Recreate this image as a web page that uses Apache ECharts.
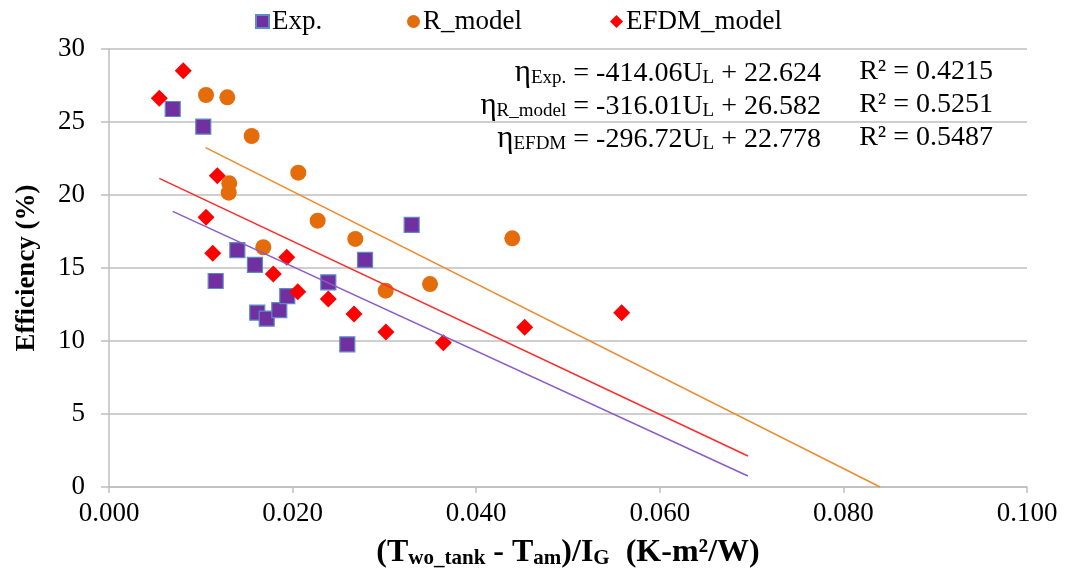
<!DOCTYPE html>
<html>
<head>
<meta charset="utf-8">
<script src="https://cdn.jsdelivr.net/npm/echarts@6/dist/echarts.min.js"></script>
<style>html,body{margin:0;padding:0;background:#fff}#c{width:1065px;height:578px}</style>
</head>
<body>
<div id="c"></div>
<script>
// ---- data ----
var expX = [0.00694,0.01027,0.01162,0.01398,0.0159,0.01615,0.01718,0.01855,0.01942,0.02389,0.02596,0.02789,0.03297];
var expY = [25.89,24.68,14.11,16.23,15.21,11.94,11.53,12.12,13.08,14.02,9.77,15.55,17.95];
var rX = [0.01057,0.01289,0.01554,0.02062,0.0131,0.01304,0.02273,0.02683,0.01681,0.03014,0.04393,0.03497];
var rY = [26.85,26.69,24.04,21.53,20.8,20.16,18.24,16.99,16.42,13.45,17.03,13.9];
var efX = [0.00809,0.00548,0.0118,0.01057,0.0113,0.01936,0.0179,0.02056,0.02389,0.02669,0.03017,0.03642,0.04528,0.05585];
var efY = [28.51,26.62,21.32,18.47,16.01,15.73,14.59,13.38,12.88,11.85,10.62,9.88,10.94,11.94];
// trend line end points (as drawn in the picture)
var expTrendX = [0.00694,0.0696];
var expTrendY = [18.88,0.75];
var rTrendX = [0.01053,0.0840];
var rTrendY = [23.24,0.0];
var efTrendX = [0.00548,0.0696];
var efTrendY = [21.14,2.12];
var xTicks = ['0.000','0.020','0.040','0.060','0.080','0.100'];
var yTicks = [0,5,10,15,20,25,30];
var eqLeft = ['Exp.', 'R_model', 'EFDM'];
var eqBody = [' = -414.06U', ' = -316.01U', ' = -296.72U'];
var eqConst = [' + 22.624', ' + 26.582', ' + 22.778'];
var r2 = ['R² = 0.4215', 'R² = 0.5251', 'R² = 0.5487'];

function zip(a, b) { return a.map(function (v, i) { return [v, b[i]]; }); }

var FONT = 'Liberation Serif';
var chart = echarts.init(document.getElementById('c'));

var graphics = [];
for (var i = 0; i < 3; i++) {
  graphics.push({
    type: 'text', x: 821, y: 56 + i * 33,
    style: {
      text: '{e|η}{s|' + eqLeft[i] + '}{m|' + eqBody[i] + '}{s|L}{m|' + eqConst[i] + '}',
      align: 'right', verticalAlign: 'top',
      rich: {
        e: { fontFamily: FONT, fontSize: 31, lineHeight: 32, fill: '#000', verticalAlign: 'bottom' },
        m: { fontFamily: FONT, fontSize: 28, lineHeight: 32, fill: '#000', verticalAlign: 'bottom' },
        s: { fontFamily: FONT, fontSize: 19, lineHeight: 12, fill: '#000', verticalAlign: 'bottom' }
      }
    }
  });
  graphics.push({
    type: 'text', x: 993, y: 56 + i * 33,
    style: {
      text: r2[i], align: 'right', verticalAlign: 'top',
      font: '28px "' + FONT + '"', fill: '#000', lineHeight: 32
    }
  });
}

function legendCfg(name, left, icon) {
  return {
    data: [{ name: name, icon: icon }], top: 3, left: left,
    itemWidth: 13, itemHeight: 13, itemGap: 0,
    textStyle: { fontFamily: FONT, fontSize: 27, color: '#000', padding: [0, 0, 0, -2] }
  };
}

var option = {
  animation: false,
  backgroundColor: '#fff',
  grid: { left: 109, right: 38, top: 49, bottom: 91 },
  legend: [
    legendCfg('Exp.', 250, 'rect'),
    legendCfg('R_model', 402, 'circle'),
    legendCfg('EFDM_model', 605, 'diamond')
  ],
  xAxis: {
    type: 'value', min: 0, max: 0.1, interval: 0.02,
    axisLine: { show: true, lineStyle: { color: '#BFBFBF', width: 1.5 } },
    axisTick: { show: true, length: 6, lineStyle: { color: '#BFBFBF', width: 1.5 } },
    splitLine: { show: false },
    axisLabel: {
      margin: 13, fontFamily: FONT, fontSize: 27, color: '#000',
      formatter: function (v) { return xTicks[Math.round(v / 0.02)]; }
    },
    name: '{b|(T}{s|wo_tank}{b| - T}{s|am}{b|)/I}{s|G}{b|  (K-m²/W)}',
    nameLocation: 'middle', nameGap: 48,
    nameTextStyle: {
      rich: {
        b: { fontFamily: FONT, fontSize: 32, fontWeight: 'bold', color: '#000', lineHeight: 34, verticalAlign: 'bottom' },
        s: { fontFamily: FONT, fontSize: 21, fontWeight: 'bold', color: '#000', lineHeight: 12, verticalAlign: 'bottom' }
      }
    }
  },
  yAxis: {
    type: 'value', min: 0, max: 30, interval: 5,
    axisLine: { show: true, lineStyle: { color: '#BFBFBF', width: 1.5 } },
    axisTick: { show: true, length: 8, lineStyle: { color: '#BFBFBF', width: 1.5 } },
    splitLine: { show: true, lineStyle: { color: '#BFBFBF', width: 1.5 } },
    axisLabel: {
      margin: 24, fontFamily: FONT, fontSize: 27, color: '#000',
      formatter: function (v) { return yTicks.indexOf(v) >= 0 ? String(v) : ''; }
    },
    name: 'Efficiency (%)', nameLocation: 'middle', nameGap: 68,
    nameTextStyle: { fontFamily: FONT, fontSize: 27, fontWeight: 'bold', color: '#000' }
  },
  series: [
    { name: 'ExpTrend', type: 'line', data: zip(expTrendX, expTrendY), symbol: 'none',
      lineStyle: { color: '#8A5CC8', width: 1.5 }, silent: true, z: 3 },
    { name: 'RTrend', type: 'line', data: zip(rTrendX, rTrendY), symbol: 'none',
      lineStyle: { color: '#EE8A2E', width: 1.5 }, silent: true, z: 3 },
    { name: 'EFTrend', type: 'line', data: zip(efTrendX, efTrendY), symbol: 'none',
      lineStyle: { color: '#FF2A2A', width: 1.5 }, silent: true, z: 3 },
    { name: 'Exp.', type: 'scatter', data: zip(expX, expY), symbol: 'rect', symbolSize: 15,
      itemStyle: { color: '#7030A0', borderColor: '#5B8BC8', borderWidth: 1.2, opacity: 1 }, z: 2 },
    { name: 'R_model', type: 'scatter', data: zip(rX, rY), symbol: 'circle', symbolSize: 16,
      itemStyle: { color: '#E46C0A', opacity: 1 }, z: 2 },
    { name: 'EFDM_model', type: 'scatter', data: zip(efX, efY), symbol: 'diamond', symbolSize: 17,
      itemStyle: { color: '#FF0000', opacity: 1 }, z: 2 }
  ],
  graphic: graphics
};
chart.setOption(option);
</script>
</body>
</html>
